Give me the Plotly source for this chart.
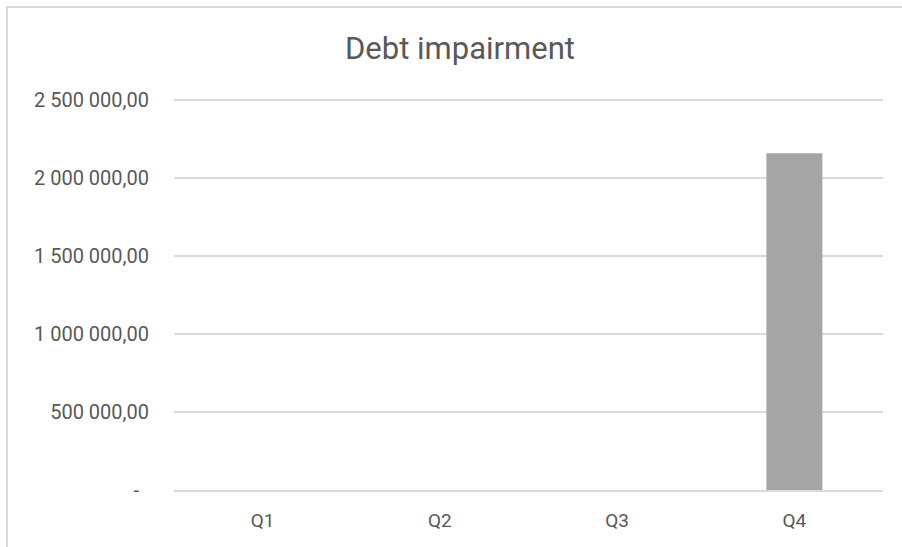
import plotly.graph_objects as go

# Quarterly debt impairment
quarters = ["Q1", "Q2", "Q3", "Q4"]
impairment = [0, 0, 0, 2160000]

# Y-axis ticks
y_ticks = [0, 500000, 1000000, 1500000, 2000000, 2500000]
y_max = 2520000  # a little headroom above the top tick so its gridline is drawn


def fmt_amount(v):
    """Format with space thousands separator and comma decimals; zero shown as a dash."""
    if v == 0:
        return "-\u00a0\u00a0"
    s = f"{v:,.2f}"
    return s.replace(",", " ").replace(".", ",")


y_ticktext = [fmt_amount(v) for v in y_ticks]

W, H = 902, 547
L, R, T, B = 174, 19, 97, 57
plot_w = W - L - R
plot_h = H - T - B

text_color = "#595959"
grid_color = "#d9d9d9"

fig = go.Figure(
    go.Bar(
        x=quarters,
        y=impairment,
        marker=dict(color="#a5a5a5", line=dict(width=0)),
        hoverinfo="x+y",
    )
)

# Light chart-area frame (runs off the right and bottom edges)
fig.add_shape(
    type="rect",
    xref="paper",
    yref="paper",
    x0=(7 - L) / plot_w,
    x1=1.06,
    y0=-0.2,
    y1=(H - B - 7) / plot_h,
    line=dict(color=grid_color, width=2),
    fillcolor="rgba(0,0,0,0)",
    layer="below",
)

fig.update_layout(
    width=W,
    height=H,
    margin=dict(l=L, r=R, t=T, b=B),
    paper_bgcolor="white",
    plot_bgcolor="white",
    font=dict(family="Roboto", color=text_color),
    title=dict(
        text="Debt impairment",
        x=460 / W,
        xanchor="center",
        xref="container",
        y=1 - 48 / H,
        yanchor="middle",
        yref="container",
        font=dict(family="Roboto", size=31, color=text_color),
    ),
    bargap=0.684,
    showlegend=False,
    xaxis=dict(
        showgrid=False,
        showline=True,
        linecolor=grid_color,
        linewidth=2,
        ticks="",
        tickfont=dict(size=19, color=text_color),
        ticklabelstandoff=12,
    ),
    yaxis=dict(
        range=[0, y_max],
        tickvals=y_ticks,
        ticktext=y_ticktext,
        showgrid=True,
        gridcolor=grid_color,
        gridwidth=1.5,
        zeroline=False,
        showline=False,
        ticks="",
        tickfont=dict(size=20, color=text_color),
        ticklabelstandoff=24,
    ),
)

fig.write_html("out.html")
